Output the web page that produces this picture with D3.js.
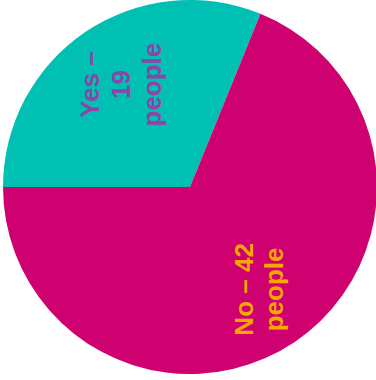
<!DOCTYPE html>
<html>
<head>
<meta charset="utf-8">
<script src="https://cdn.jsdelivr.net/npm/d3@7"></script>
<style>
  html, body { margin: 0; padding: 0; background: #ffffff; }
  svg { display: block; }
</style>
</head>
<body>
<div id="chart"></div>
<script>
// Survey answers
const categories = ["Yes", "No"];
const values = [19, 42];
const labelLines = [["Yes –", "19", "people"], ["No – 42", "people"]];
const sliceColors = ["#00bfb3", "#cf0070"];
const textColors = ["#8b46a8", "#f6a800"];

const width = 376, height = 380;
const cx = 190, cy = 187, radius = 187;

const svg = d3.select("#chart").append("svg")
  .attr("width", width)
  .attr("height", height);

const g = svg.append("g").attr("transform", `translate(${cx},${cy})`);

const data = categories.map((c, i) => ({ category: c, value: values[i], lines: labelLines[i], i }));

const pie = d3.pie()
  .value(d => d.value)
  .sort(null)
  .startAngle(-Math.PI / 2)
  .endAngle(Math.PI * 1.5);

const arcs = pie(data);

const arc = d3.arc().innerRadius(0).outerRadius(radius);
const labelArc = d3.arc().innerRadius(radius * 0.66).outerRadius(radius * 0.66);

g.selectAll("path.slice")
  .data(arcs)
  .join("path")
  .attr("class", "slice")
  .attr("d", arc)
  .attr("fill", d => sliceColors[d.data.i]);

const fontSize = 26;
const lineHeight = 31;

// Labels run bottom-to-top, centred on each slice's label point
const labels = g.selectAll("g.label")
  .data(arcs)
  .join("g")
  .attr("class", "label")
  .attr("transform", d => {
    const [x, y] = labelArc.centroid(d);
    return `translate(${x},${y}) rotate(-90)`;
  });

labels.append("text")
  .attr("text-anchor", "middle")
  .attr("font-family", "'Liberation Sans', Arial, sans-serif")
  .attr("font-weight", "bold")
  .attr("font-size", fontSize)
  .attr("fill", d => textColors[d.data.i])
  .each(function (d) {
    const n = d.data.lines.length;
    const t = d3.select(this);
    d.data.lines.forEach((line, k) => {
      t.append("tspan")
        .attr("x", 0)
        .attr("y", (k - (n - 1) / 2) * lineHeight)
        .attr("dy", "0.35em")
        .text(line);
    });
  });
</script>
</body>
</html>
